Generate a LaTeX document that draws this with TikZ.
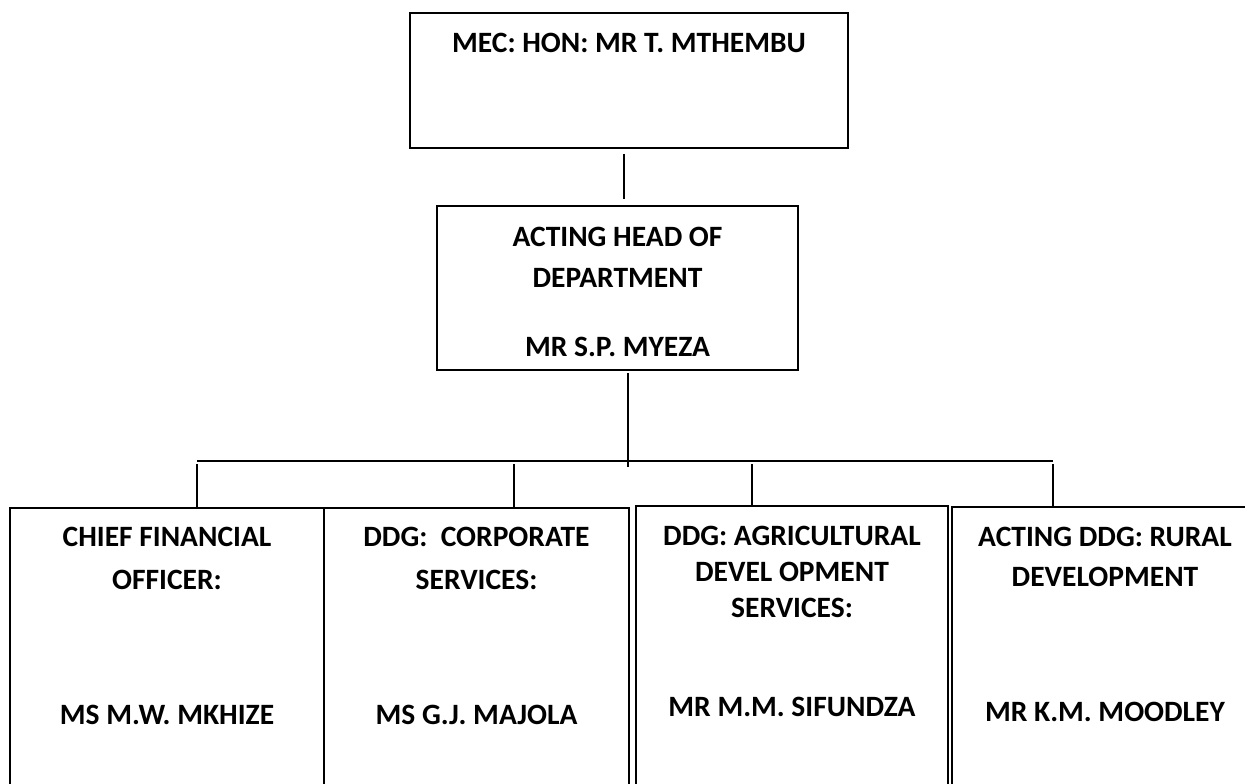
\documentclass[tikz,border=0pt]{standalone}
\usepackage{fontspec}
\setmainfont{Carlito}
\usetikzlibrary{positioning}

\begin{document}
\begin{tikzpicture}[x=1pt, y=-1pt,
	post/.style={draw, line width=1.6pt, inner sep=0pt},
	lbl/.style={font=\bfseries\fontsize{29.5}{#1}\selectfont, align=center, inner sep=0pt},
	lbl/.default=42,
	wire/.style={line width=1.4pt}]
	\useasboundingbox (0,0) rectangle (1245,784);
	\clip (0,0) rectangle (1245,784);

	% boxes
	\node[post, minimum width=438pt, minimum height=135pt] (mec)   at (629,80.5)   {};
	\node[post, minimum width=361pt, minimum height=164pt] (hod)   at (617.5,288)  {};
	\node[post, minimum width=314pt, minimum height=292pt] (cfo)   at (167,654)    {};
	\node[post, minimum width=305pt, minimum height=292pt] (corp)  at (476.5,654)  {};
	\node[post, minimum width=312pt, minimum height=294pt] (agri)  at (792,653)    {};
	\node[post, minimum width=306pt, minimum height=293pt] (rural) at (1105,653.5) {};

	% texts
	\node[lbl]     (mectxt)    at (629,43)      {MEC: HON: MR T. MTHEMBU};
	\node[lbl=41]  (hodtxt)    at (617.5,257.5) {ACTING HEAD OF\\DEPARTMENT};
	\node[lbl]     (hodname)   at (617.5,347)   {MR S.P. MYEZA};
	\node[lbl=43]  (cfotxt)    at (167,558.5)   {CHIEF FINANCIAL\\OFFICER:};
	\node[lbl]     (cfoname)   at (167,715)     {MS M.W. MKHIZE};
	\node[lbl=43]  (corptxt)   at (476.5,558.5) {DDG:~ CORPORATE\\SERVICES:};
	\node[lbl]     (corpname)  at (476.5,715)   {MS G.J. MAJOLA};
	\node[lbl=36]  (agritxt)   at (792,572)     {DDG: AGRICULTURAL\\DEVEL OPMENT\\SERVICES:};
	\node[lbl]     (agriname)  at (792,707)     {MR M.M. SIFUNDZA};
	\node[lbl=40]  (ruraltxt)  at (1105,557)    {ACTING DDG: RURAL\\DEVELOPMENT};
	\node[lbl]     (ruralname) at (1105,712)    {MR K.M. MOODLEY};

	% lines
	\coordinate (busl) at (197,461);
	\coordinate (busr) at (1053,461);
	\coordinate (hub)  at (628,467);
	\draw[wire] ([xshift=-5pt,yshift=-5pt]mec.south) -- ([xshift=6.5pt,yshift=6pt]hod.north);
	\draw[wire] ([xshift=10.5pt,yshift=-2pt]hod.south) -- (hub);
	\draw[wire] (busl) -- (busr);
	\foreach \b/\x in {cfo/197, corp/514, agri/752, rural/1053}
		\draw[wire] (\x,464) -- (\x,464 |- \b.north);
\end{tikzpicture}
\end{document}
